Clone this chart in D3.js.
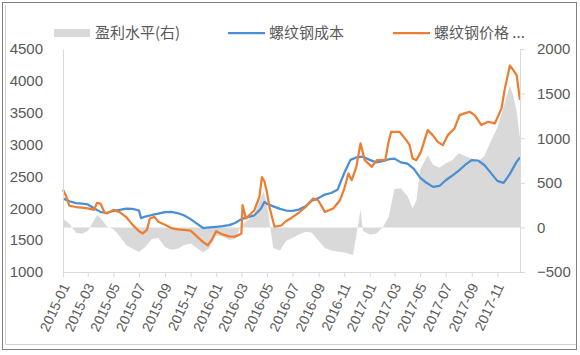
<!DOCTYPE html>
<html>
<head>
<meta charset="utf-8">
<script src="https://cdn.jsdelivr.net/npm/d3@7"></script>
<style>
  body { margin: 0; background: #fff; }
  svg { display: block; font-family: "Noto Sans CJK SC", "Noto Sans", sans-serif; }
  .axis text { fill: #595959; }
  .axis path, .axis line { stroke: #d9d9d9; }
</style>
</head>
<body>
<div id="chart"></div>
<script>
// 螺纹钢成本 (left axis)
const costDates = ['2015-01-01','2015-01-16','2015-02-01','2015-02-15','2015-03-01','2015-03-16','2015-04-01','2015-04-16','2015-05-01','2015-05-16','2015-06-01','2015-06-16','2015-07-01','2015-07-06','2015-07-16','2015-08-01','2015-08-16','2015-09-01','2015-09-16','2015-10-01','2015-10-16','2015-11-01','2015-11-16','2015-12-01','2015-12-16','2016-01-01','2016-01-16','2016-02-01','2016-02-15','2016-03-01','2016-03-16','2016-04-01','2016-04-16','2016-04-25','2016-05-01','2016-05-16','2016-06-01','2016-06-16','2016-07-01','2016-07-16','2016-08-01','2016-08-16','2016-09-01','2016-09-16','2016-10-01','2016-10-16','2016-11-01','2016-11-16','2016-12-01','2016-12-16','2017-01-01','2017-01-16','2017-02-01','2017-02-16','2017-03-01','2017-03-16','2017-04-01','2017-04-16','2017-05-01','2017-05-16','2017-06-01','2017-06-16','2017-07-01','2017-07-16','2017-08-01','2017-08-16','2017-09-01','2017-09-16','2017-10-01','2017-10-16','2017-11-01','2017-11-16','2017-12-01','2017-12-16','2017-12-25'];
const costValues = [2154,2110,2080,2075,2060,2000,1940,1930,1960,1975,1995,1990,1965,1845,1870,1895,1915,1940,1945,1925,1890,1830,1760,1690,1700,1710,1720,1735,1770,1830,1860,1890,1990,2100,2070,2030,1990,1965,1960,1980,2030,2120,2160,2215,2240,2290,2550,2760,2800,2810,2760,2720,2740,2770,2780,2720,2700,2620,2480,2400,2336,2350,2440,2510,2590,2680,2756,2750,2680,2560,2430,2400,2540,2720,2800];

// 螺纹钢价格 (left axis)
const priceDates = ['2015-01-01','2015-01-08','2015-01-16','2015-02-01','2015-02-15','2015-03-01','2015-03-16','2015-03-23','2015-04-01','2015-04-10','2015-04-16','2015-05-01','2015-05-16','2015-06-01','2015-06-16','2015-07-01','2015-07-10','2015-07-20','2015-07-27','2015-08-07','2015-08-16','2015-09-01','2015-09-16','2015-10-01','2015-10-16','2015-11-01','2015-11-16','2015-12-01','2015-12-12','2015-12-21','2016-01-01','2016-01-16','2016-02-01','2016-02-15','2016-03-01','2016-03-04','2016-03-12','2016-04-01','2016-04-13','2016-04-19','2016-04-25','2016-05-01','2016-05-07','2016-05-19','2016-06-04','2016-06-16','2016-07-01','2016-07-16','2016-08-01','2016-08-19','2016-08-31','2016-09-16','2016-10-06','2016-10-22','2016-11-01','2016-11-11','2016-11-19','2016-11-30','2016-12-10','2016-12-20','2017-01-06','2017-01-18','2017-02-07','2017-02-14','2017-02-21','2017-03-13','2017-03-29','2017-04-06','2017-04-13','2017-04-22','2017-05-03','2017-05-19','2017-05-31','2017-06-12','2017-06-24','2017-07-06','2017-07-22','2017-08-03','2017-08-15','2017-08-27','2017-09-08','2017-09-24','2017-10-10','2017-10-26','2017-11-11','2017-11-19','2017-12-01','2017-12-09','2017-12-17','2017-12-25'];
const priceValues = [2290,2200,2040,2020,2010,2000,1975,2085,2070,1930,1920,1975,1940,1860,1740,1640,1605,1660,1840,1865,1790,1740,1690,1670,1660,1650,1560,1470,1420,1500,1640,1590,1560,1555,1600,2048,1840,1970,2180,2490,2420,2250,2020,1710,1730,1800,1860,1930,2020,2154,2127,1943,1996,2127,2300,2546,2441,2651,3018,2756,2651,2756,2756,3018,3200,3200,3070,2991,2782,2756,2886,3227,3148,3043,2991,3148,3253,3463,3490,3515,3463,3306,3358,3332,3568,3882,4240,4170,4091,3700];

// 盈利水平 (right axis)
const profitDates = ['2015-01-01','2015-01-16','2015-02-01','2015-02-15','2015-03-01','2015-03-16','2015-03-23','2015-04-01','2015-04-16','2015-05-01','2015-05-16','2015-06-01','2015-06-16','2015-07-01','2015-07-16','2015-08-01','2015-08-16','2015-09-01','2015-09-16','2015-10-01','2015-10-16','2015-11-01','2015-11-16','2015-12-01','2015-12-16','2016-01-01','2016-01-16','2016-02-01','2016-02-15','2016-03-01','2016-03-16','2016-04-01','2016-04-16','2016-04-23','2016-05-01','2016-05-07','2016-05-16','2016-06-01','2016-06-16','2016-07-01','2016-07-16','2016-08-01','2016-08-16','2016-09-01','2016-09-16','2016-10-01','2016-10-16','2016-11-01','2016-11-16','2016-11-22','2016-12-01','2016-12-10','2016-12-16','2017-01-01','2017-01-16','2017-02-01','2017-02-15','2017-03-01','2017-03-16','2017-04-01','2017-04-13','2017-04-22','2017-05-01','2017-05-19','2017-06-01','2017-06-16','2017-07-01','2017-07-16','2017-08-01','2017-08-16','2017-09-01','2017-09-16','2017-10-01','2017-10-16','2017-11-01','2017-11-16','2017-12-01','2017-12-09','2017-12-17','2017-12-25'];
const profitValues = [100,40,-60,-70,-40,80,140,100,10,-20,-100,-200,-240,-275,-220,-130,-120,-220,-250,-240,-200,-180,-230,-280,-230,-90,-100,-140,-130,20,80,150,330,400,260,60,-230,-260,-150,-120,-80,-50,-60,-150,-230,-260,-270,-280,-300,-310,-60,200,-40,-80,-70,0,120,430,440,350,215,300,650,810,700,670,720,750,830,800,770,740,800,960,1120,1350,1590,1480,1300,1000];

const leftTicks = [1000, 1500, 2000, 2500, 3000, 3500, 4000, 4500];
const rightTicks = [-500, 0, 500, 1000, 1500, 2000];
const xTickMonths = ['2015-01','2015-03','2015-05','2015-07','2015-09','2015-11','2016-01','2016-03','2016-05','2016-07','2016-09','2016-11','2017-01','2017-03','2017-05','2017-07','2017-09','2017-11'];
const legendNames = ['盈利水平(右)', '螺纹钢成本', '螺纹钢价格 ...'];

const width = 580, height = 355;
const plot = { left: 63, right: 520, top: 49, bottom: 272 };
const parse = d3.timeParse('%Y-%m-%d');
const parseMonth = d3.timeParse('%Y-%m');

const svg = d3.select('#chart').append('svg')
    .attr('width', width)
    .attr('height', height);

// frame
svg.append('rect')
    .attr('x', 2.5).attr('y', 2.5)
    .attr('width', 574).attr('height', 347)
    .attr('fill', 'none')
    .attr('stroke', '#000')
    .attr('stroke-dasharray', '1,1');
svg.append('path')
    .attr('d', 'M5.5,5 V344.5 H576')
    .attr('fill', 'none')
    .attr('stroke', '#d0d0d0');

const x = d3.scaleTime()
    .domain([parse('2015-01-01'), parse('2017-12-25')])
    .range([plot.left, plot.right]);
const yL = d3.scaleLinear().domain([1000, 4500]).range([plot.bottom, plot.top]);
const yR = d3.scaleLinear().domain([-500, 2000]).range([plot.bottom, plot.top]);

const profit = profitDates.map((d, i) => ({ date: parse(d), value: profitValues[i] }));
const cost = costDates.map((d, i) => ({ date: parse(d), value: costValues[i] }));
const price = priceDates.map((d, i) => ({ date: parse(d), value: priceValues[i] }));

// profit area from the zero line of the right axis
svg.append('path')
    .datum(profit)
    .attr('fill', '#d9d9d9')
    .attr('d', d3.area()
        .x(d => x(d.date))
        .y0(yR(0))
        .y1(d => yR(d.value)));

const line = d3.line().x(d => x(d.date)).y(d => yL(d.value));

svg.append('path')
    .datum(cost)
    .attr('fill', 'none')
    .attr('stroke', '#4a8fd4')
    .attr('stroke-width', 2.25)
    .attr('stroke-linejoin', 'round')
    .attr('d', line);

svg.append('path')
    .datum(price)
    .attr('fill', 'none')
    .attr('stroke', '#ed7d31')
    .attr('stroke-width', 2.25)
    .attr('stroke-linejoin', 'round')
    .attr('d', line);

// x axis
const xAxis = svg.append('g')
    .attr('class', 'axis x-axis')
    .attr('transform', `translate(0,${plot.bottom})`)
    .call(d3.axisBottom(x)
        .tickValues(xTickMonths.map(m => parseMonth(m)))
        .tickFormat(d3.timeFormat('%Y-%m'))
        .tickSize(5)
        .tickSizeOuter(0));
xAxis.selectAll('text')
    .attr('x', 0).attr('y', 0)
    .attr('dy', '0.35em')
    .attr('transform', 'translate(2,12) rotate(-65)')
    .style('text-anchor', 'end')
    .style('font-size', '14px');

// left axis
const leftAxis = svg.append('g')
    .attr('class', 'axis y-axis')
    .attr('transform', `translate(${plot.left},0)`)
    .call(d3.axisLeft(yL).tickValues(leftTicks).tickFormat(d3.format('d'))
        .tickSize(0).tickPadding(20).tickSizeOuter(0));
leftAxis.selectAll('text').style('font-size', '15px');

// right axis
const rightAxis = svg.append('g')
    .attr('class', 'axis y-axis')
    .attr('transform', `translate(${plot.right},0)`)
    .call(d3.axisRight(yR).tickValues(rightTicks).tickFormat(d3.format('d'))
        .tickSize(5).tickPadding(12).tickSizeOuter(0));
rightAxis.selectAll('text').style('font-size', '15px');

// legend
const legend = svg.append('g').attr('class', 'legend');
const legendX = [54, 228, 393];
legend.append('rect')
    .attr('x', legendX[0]).attr('y', 29)
    .attr('width', 36).attr('height', 8)
    .attr('fill', '#d9d9d9');
legend.append('line')
    .attr('x1', legendX[1]).attr('x2', legendX[1] + 37)
    .attr('y1', 33).attr('y2', 33)
    .attr('stroke', '#4a8fd4').attr('stroke-width', 2.25);
legend.append('line')
    .attr('x1', legendX[2]).attr('x2', legendX[2] + 37)
    .attr('y1', 33).attr('y2', 33)
    .attr('stroke', '#ed7d31').attr('stroke-width', 2.25);
legend.selectAll('text')
    .data(legendNames)
    .enter()
    .append('text')
    .attr('x', (d, i) => legendX[i] + 41)
    .attr('y', 33)
    .attr('dy', '0.35em')
    .attr('fill', '#595959')
    .style('font-size', '15px')
    .text(d => d);
</script>
</body>
</html>
